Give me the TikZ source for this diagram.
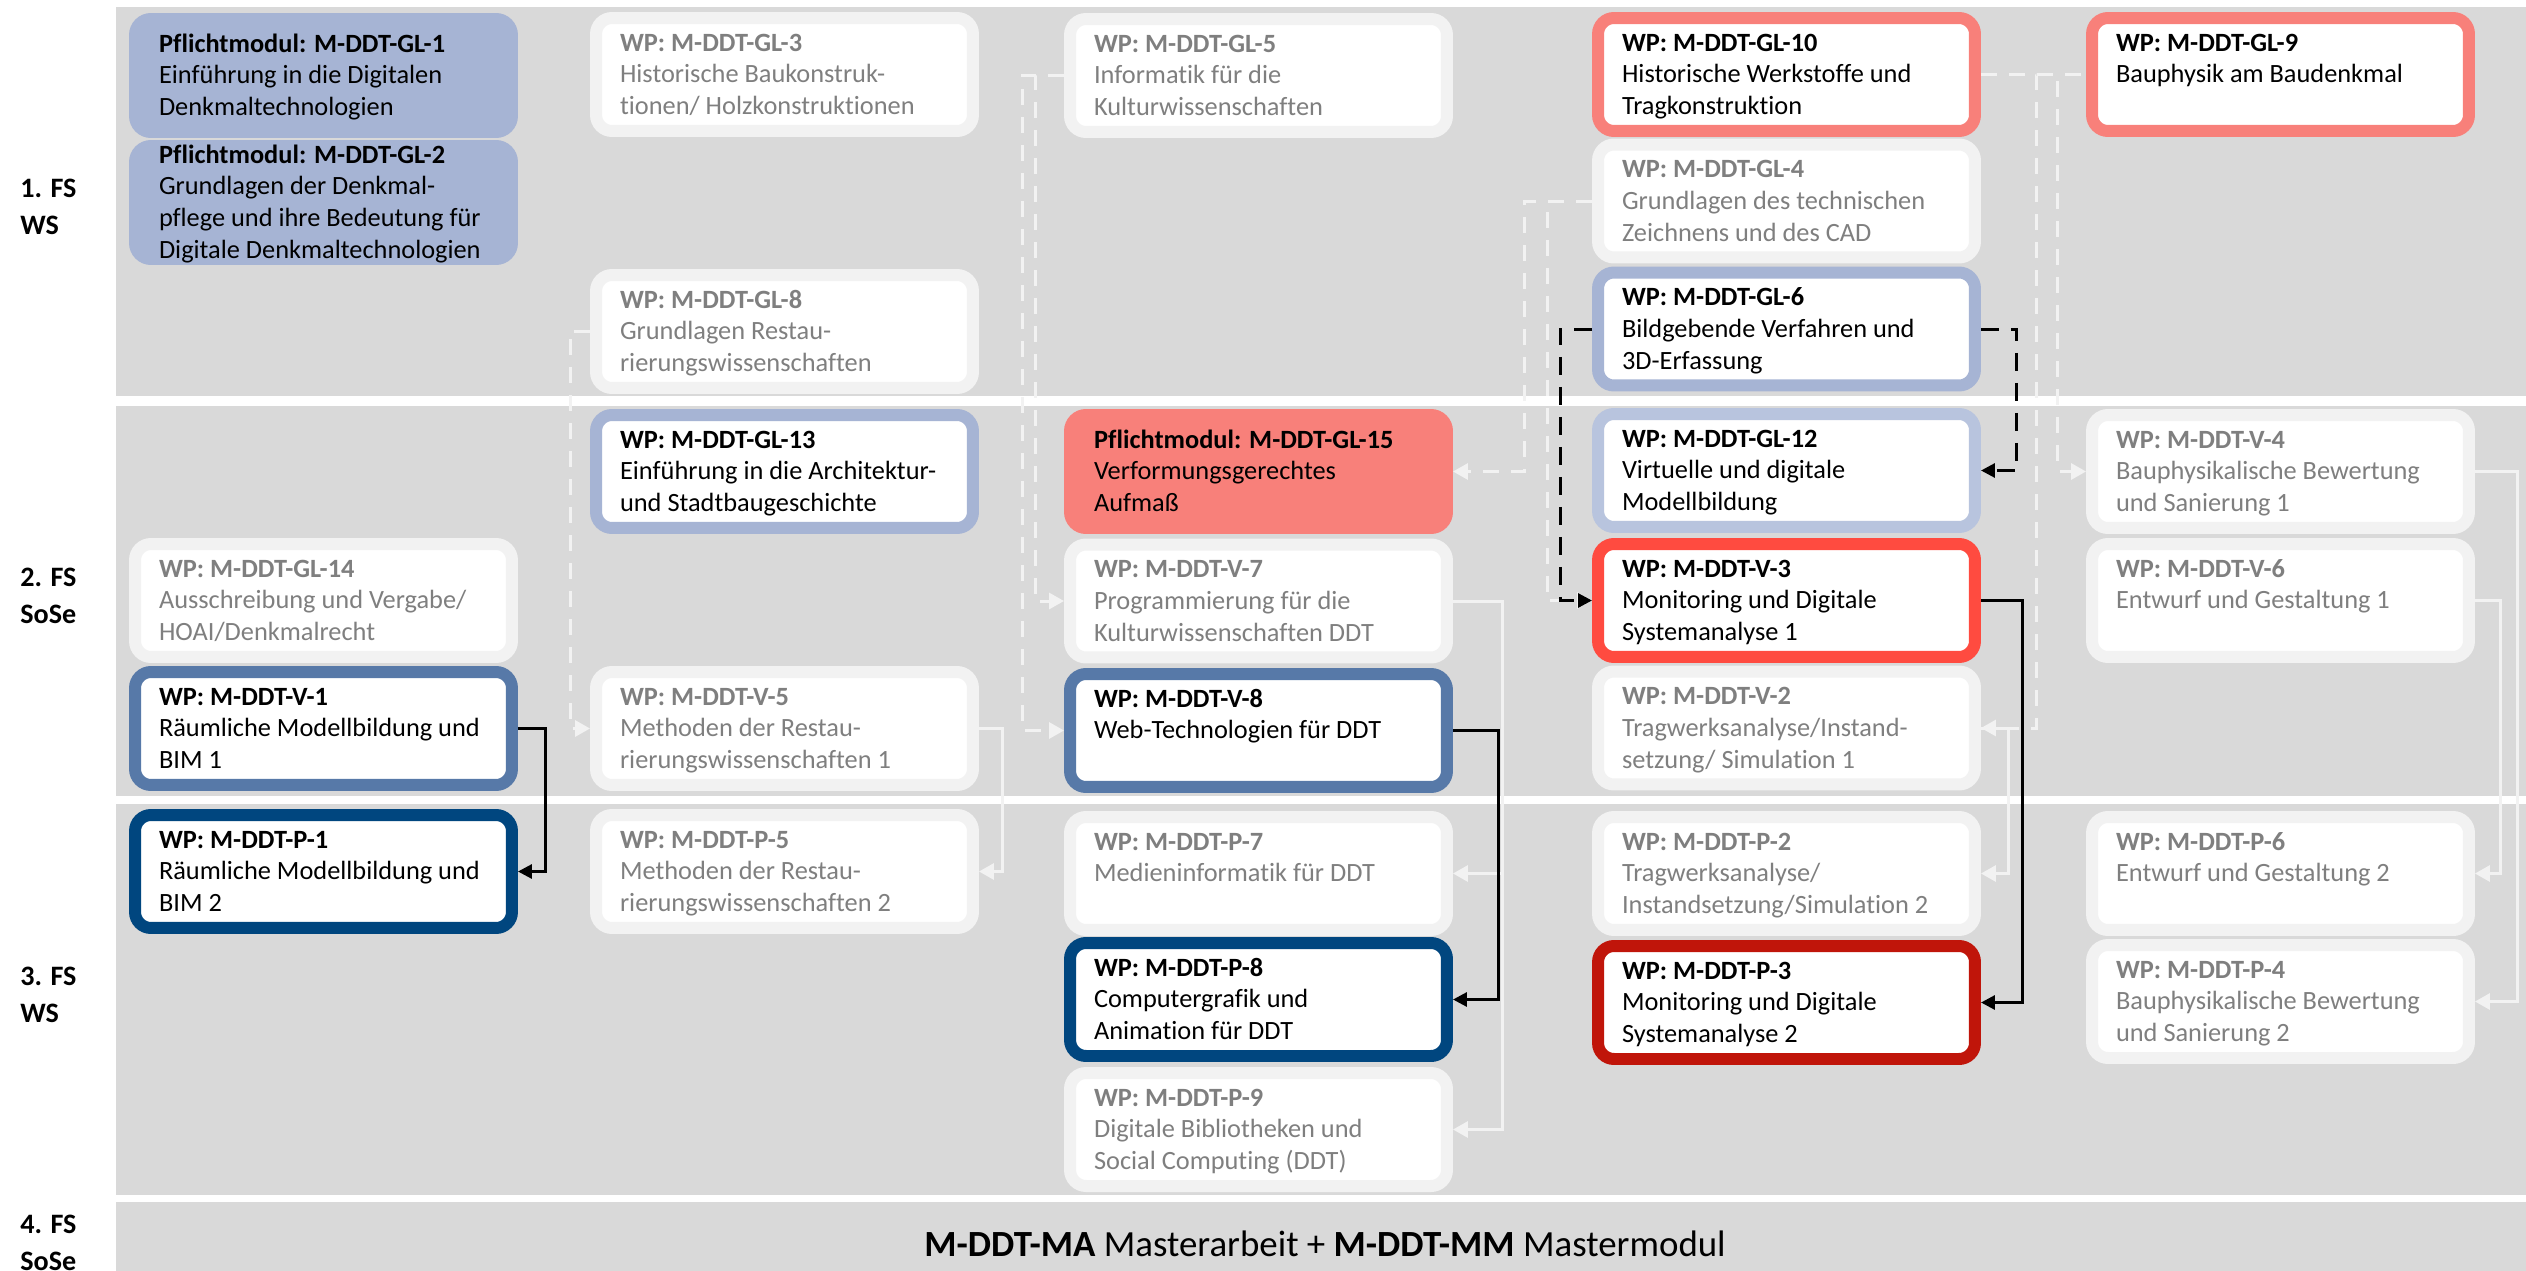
\documentclass[tikz,border=0pt]{standalone}
\usepackage{fontspec}
\setmainfont{Carlito}[Ligatures=NoCommon]
\usetikzlibrary{arrows.meta}
\definecolor{cBand}{HTML}{D9D9D9}
\definecolor{cLite}{HTML}{F2F2F2}
\definecolor{cGreyTxt}{HTML}{7F7F7F}
\definecolor{cBlueGrey}{HTML}{A6B4D4}
\definecolor{cBlueGreyL}{HTML}{B8C4DE}
\definecolor{cSalmon}{HTML}{F8807A}
\definecolor{cSteel}{HTML}{5779A8}
\definecolor{cNavy}{HTML}{00467F}
\definecolor{cRed}{HTML}{FF4B40}
\definecolor{cDarkRed}{HTML}{C0150A}
\newcommand{\modtext}[3][0cm]{\hspace*{0.48cm}\parbox[c][2.26cm][t]{7.06cm}{\raggedright\vspace*{#1}\rule{0pt}{0.66cm}\textbf{#2}\\#3}}
\tikzset{
  modbox/.style={rounded corners=0.32cm, line width=0.24cm, minimum width=7.54cm,
    minimum height=2.26cm, inner sep=0pt, font=\fontsize{15pt}{18.2pt}\selectfont},
  inactive/.style={modbox, draw=cLite, fill=white, text=cGreyTxt},
  modframe/.style={modbox, draw=#1, fill=white, text=black},
  modfill/.style={modbox, draw=#1, fill=#1, text=black},
  semlabel/.style={anchor=west, align=left, inner sep=0pt, font=\fontsize{16pt}{21pt}\selectfont\bfseries},
  lt/.style={draw=cLite, line width=0.06cm, -{Triangle[length=0.3cm,width=0.32cm]}},
  ltdash/.style={lt, dash pattern=on 0.32cm off 0.24cm},
  ltdashplain/.style={draw=cLite, line width=0.06cm, dash pattern=on 0.32cm off 0.24cm},
  blk/.style={draw=black, line width=0.06cm, -{Triangle[length=0.28cm,width=0.28cm]}},
  blkdash/.style={blk, dash pattern=on 0.36cm off 0.24cm},
}
\begin{document}
\begin{tikzpicture}[x=0.02cm,y=-0.02cm]
\useasboundingbox (0,0) rectangle (2526,1271);
\fill[white] (0,0) rectangle (2526,1271);
\fill[cBand] (116,7) rectangle (2526,396);
\fill[cBand] (116,406) rectangle (2526,796);
\fill[cBand] (116,804) rectangle (2526,1195);
\fill[cBand] (116,1202) rectangle (2526,1280);

% semester labels
\node[semlabel] (s1) at (20,206.5) {1. FS\\WS};
\node[semlabel] (s2) at (20,595.5) {2. FS\\SoSe};
\node[semlabel] (s3) at (20,995) {3. FS\\WS};
\node[semlabel] (s4) at (20,1243) {4. FS\\SoSe};

% band 1
\node[modfill=cBlueGrey] (gl1) at (323.5,75.5) {\modtext{Pflichtmodul: M-DDT-GL-1}{Einführung in die Digitalen\\Denkmaltechnologien}};
\node[modfill=cBlueGrey] (gl2) at (323.5,202.5) {\modtext[-0.32cm]{Pflichtmodul: M-DDT-GL-2}{Grundlagen der Denkmal-\\pflege und ihre Bedeutung für\\Digitale Denkmaltechnologien}};
\node[inactive] (gl3) at (784.5,74.5) {\modtext{WP: M-DDT-GL-3}{Historische Baukonstruk-\\tionen/ Holzkonstruktionen}};
\node[inactive] (gl8) at (784.5,331.5) {\modtext{WP: M-DDT-GL-8}{Grundlagen Restau-\\rierungswissenschaften}};
\node[inactive] (gl5) at (1258.5,75.5) {\modtext{WP: M-DDT-GL-5}{Informatik für die\\Kulturwissenschaften}};
\node[modframe=cSalmon] (gl10) at (1786.5,74.5) {\modtext{WP: M-DDT-GL-10}{Historische Werkstoffe und\\Tragkonstruktion}};
\node[inactive] (gl4) at (1786.5,201) {\modtext{WP: M-DDT-GL-4}{Grundlagen des technischen\\Zeichnens und des CAD}};
\node[modframe=cBlueGrey] (gl6) at (1786.5,329) {\modtext{WP: M-DDT-GL-6}{Bildgebende Verfahren und\\3D-Erfassung}};
\node[modframe=cSalmon] (gl9) at (2280.5,74.5) {\modtext{WP: M-DDT-GL-9}{Bauphysik am Baudenkmal}};

% band 2
\node[modframe=cBlueGrey] (gl13) at (784.5,471.5) {\modtext{WP: M-DDT-GL-13}{Einführung in die Architektur-\\und Stadtbaugeschichte}};
\node[inactive] (gl14) at (323.5,600.5) {\modtext{WP: M-DDT-GL-14}{Ausschreibung und Vergabe/\\HOAI/Denkmalrecht}};
\node[modframe=cSteel] (v1) at (323.5,728.5) {\modtext{WP: M-DDT-V-1}{Räumliche Modellbildung und\\BIM 1}};
\node[inactive] (v5) at (784.5,728.5) {\modtext{WP: M-DDT-V-5}{Methoden der Restau-\\rierungswissenschaften 1}};
\node[modfill=cSalmon] (gl15) at (1258.5,471.5) {\modtext{Pflichtmodul: M-DDT-GL-15}{Verformungsgerechtes\\Aufmaß}};
\node[inactive] (v7) at (1258.5,601) {\modtext{WP: M-DDT-V-7}{Programmierung für die\\Kulturwissenschaften DDT}};
\node[modframe=cSteel] (v8) at (1258.5,730.5) {\modtext{WP: M-DDT-V-8}{Web-Technologien für DDT}};
\node[modframe=cBlueGreyL] (gl12) at (1786.5,470.5) {\modtext{WP: M-DDT-GL-12}{Virtuelle und digitale\\Modellbildung}};
\node[modframe=cRed] (v3) at (1786.5,600.5) {\modtext{WP: M-DDT-V-3}{Monitoring und Digitale\\Systemanalyse 1}};
\node[inactive] (v2) at (1786.5,728) {\modtext{WP: M-DDT-V-2}{Tragwerksanalyse/Instand-\\setzung/ Simulation 1}};
\node[inactive] (v4) at (2280.5,471.5) {\modtext{WP: M-DDT-V-4}{Bauphysikalische Bewertung\\und Sanierung 1}};
\node[inactive] (v6) at (2280.5,600.5) {\modtext{WP: M-DDT-V-6}{Entwurf und Gestaltung 1}};

% band 3
\node[modframe=cNavy] (p1) at (323.5,871.5) {\modtext{WP: M-DDT-P-1}{Räumliche Modellbildung und\\BIM 2}};
\node[inactive] (p5) at (784.5,871.5) {\modtext{WP: M-DDT-P-5}{Methoden der Restau-\\rierungswissenschaften 2}};
\node[inactive] (p7) at (1258.5,873.5) {\modtext{WP: M-DDT-P-7}{Medieninformatik für DDT}};
\node[modframe=cNavy] (p8) at (1258.5,999.5) {\modtext{WP: M-DDT-P-8}{Computergrafik und\\Animation für DDT}};
\node[inactive] (p9) at (1258.5,1129.5) {\modtext{WP: M-DDT-P-9}{Digitale Bibliotheken und\\Social Computing (DDT)}};
\node[inactive] (p2) at (1786.5,873.5) {\modtext{WP: M-DDT-P-2}{Tragwerksanalyse/\\Instandsetzung/Simulation 2}};
\node[modframe=cDarkRed] (p3) at (1786.5,1002.5) {\modtext{WP: M-DDT-P-3}{Monitoring und Digitale\\Systemanalyse 2}};
\node[inactive] (p6) at (2280.5,873.5) {\modtext{WP: M-DDT-P-6}{Entwurf und Gestaltung 2}};
\node[inactive] (p4) at (2280.5,1001.5) {\modtext{WP: M-DDT-P-4}{Bauphysikalische Bewertung\\und Sanierung 2}};

% band 4
\node[inner sep=0pt, font=\fontsize{21pt}{25pt}\selectfont] (ma) at (1325,1244) {\textbf{M-DDT-MA} Masterarbeit + \textbf{M-DDT-MM} Mastermodul};

% light connectors
\draw[ltdash] (gl8.west) -- ++(-20,0) |- (v5.west);
\draw[ltdash] (gl5.west) -- ++(-29,0) |- (v7.west);
\draw[ltdash] (gl5.west) -- ++(-42,0) |- (v8.west);
\draw[ltdash] (gl4.west) -- ++(-68,0) |- (gl15.east);
\draw[ltdash] (gl4.west) -- ++(-45,0) |- (v3.west);
\draw[ltdashplain] (gl10.east) -- (gl9.west);
\draw[ltdash] (gl10.east) -- ++(77,0) |- (v4.west);
\draw[ltdash] (gl10.east) -- ++(56,0) |- (v2.east);
\draw[lt] (v2.east) -- ++(28,0) |- (p2.east);
\draw[lt] (v5.east) -- ++(24,0) |- (p5.east);
\draw[lt] (v7.east) -- ++(50,0) |- (p7.east);
\draw[lt] (v7.east) -- ++(50,0) |- (p9.east);
\draw[lt] (v4.east) -- ++(43,0) |- (p4.east);
\draw[lt] (v6.east) -- ++(26,0) |- (p6.east);

% black connectors
\draw[blk] (v1.east) -- ++(28,0) |- (p1.east);
\draw[blk] (v8.east) -- ++(46,0) |- (p8.east);
\draw[blk] (v3.east) -- ++(42,0) |- (p3.east);
\draw[blkdash] (gl6.west) -- ++(-32,0) |- (v3.west);
\draw[blkdash] (gl6.east) -- ++(36,0) |- (gl12.east);
\end{tikzpicture}
\end{document}
